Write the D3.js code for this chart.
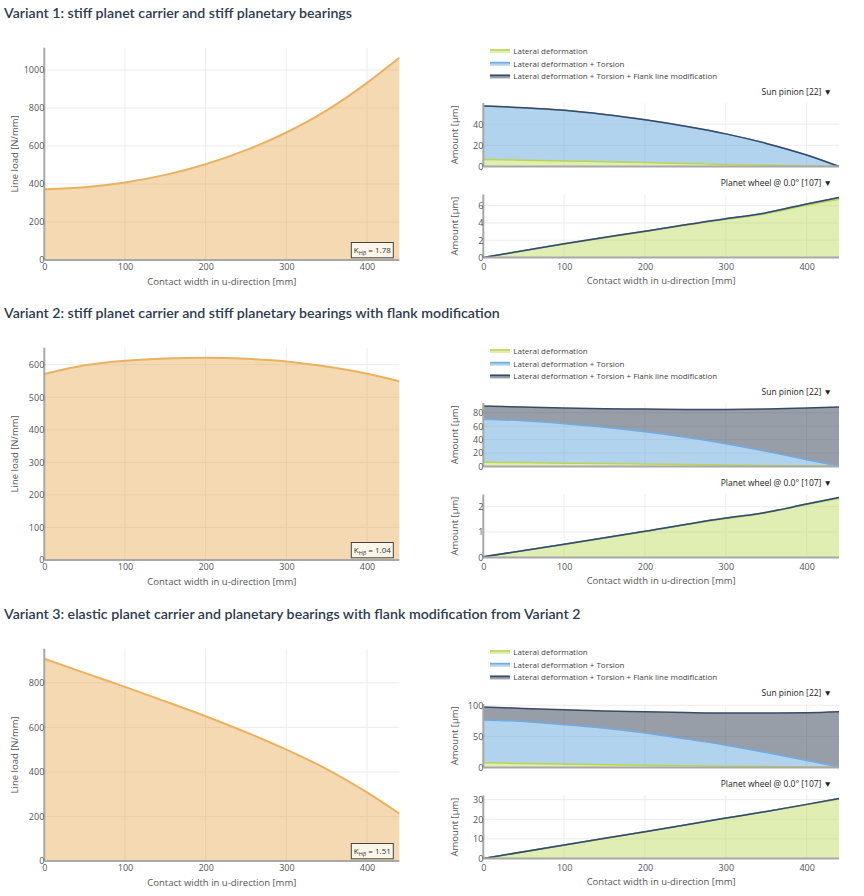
<!DOCTYPE html>
<html>
<head>
<meta charset="utf-8">
<script src="https://cdn.jsdelivr.net/npm/d3@7"></script>
<style>
body { margin: 0; background: #fff; }
svg { display: block; }
</style>
</head>
<body>
<div id="main"></div>
<script>
const ctx = {
    w: 864,
    h: 896,
};

const variantTitles = [
    "Variant 1: stiff planet carrier and stiff planetary bearings",
    "Variant 2: stiff planet carrier and stiff planetary bearings with flank modification",
    "Variant 3: elastic planet carrier and planetary bearings with flank modification from Variant 2"
];
const sectionTop = [0, 300, 601];

// contact width positions [mm]
const uPos = [0, 50, 100, 150, 200, 250, 300, 350, 400, 440];
const planetPos = [0, 100, 200, 300, 340, 400, 440];
const xTicks = [0, 100, 200, 300, 400];

// line load [N/mm]
const loadV1 = [372, 383, 408, 448, 504, 578, 671, 787, 932, 1064];
const loadV2 = [571, 598, 612, 619, 621, 618, 610, 594, 572, 549];
const loadV3 = [908, 845, 782, 717, 650, 578, 500, 413, 308, 213];
const loadTicks = [
    [0, 200, 400, 600, 800, 1000],
    [0, 100, 200, 300, 400, 500, 600],
    [0, 200, 400, 600, 800]
];
const kFactor = ["1.78", "1.04", "1.51"];

// sun pinion deformation [µm]
const sunLateralV1 = [6.7, 6.0, 5.3, 4.5, 3.7, 2.9, 2.0, 1.3, 0.6, 0];
const sunTorsionV1 = [57.1, 55.5, 53, 49, 44.1, 38, 30.8, 21.8, 10.8, 0];
const sunFlankV1   = [57.1, 55.5, 53, 49, 44.1, 38, 30.8, 21.8, 10.8, 0];
const sunLateralV2 = [6.5, 5.8, 5.0, 4.4, 3.7, 3.0, 2.3, 1.6, 1.0, 0.5];
const sunTorsionV2 = [70.4, 68, 63.7, 58.5, 51.6, 43.5, 34, 22.5, 10.2, 0.5];
const sunFlankV2   = [90, 88.5, 87, 86, 85.5, 85, 85, 85.5, 87, 88.5];
const sunLateralV3 = [7.6, 6.5, 5.4, 4.6, 3.8, 3.0, 2.2, 1.6, 1.0, 0.5];
const sunTorsionV3 = [76.5, 74, 68.9, 63, 55.4, 46, 35.8, 24, 11.4, 0.5];
const sunFlankV3   = [97.2, 95, 92.8, 91, 89.6, 88.3, 87.4, 87.4, 88, 89.6];
const sunTicks = [[0, 20, 40], [0, 20, 40, 60, 80], [0, 50, 100]];

// planet wheel deformation [µm]
const planetLateralV1 = [0, 1.55, 3.0, 4.42, 4.92, 6.05, 6.75];
const planetFlankV1   = [0, 1.6, 3.05, 4.5, 5.0, 6.2, 6.95];
const planetLateralV2 = [0.03, 0.51, 1.02, 1.53, 1.70, 2.08, 2.33];
const planetFlankV2   = [0.03, 0.52, 1.03, 1.55, 1.72, 2.1, 2.36];
const planetLateralV3 = [0, 6.8, 13.6, 20.5, 23.2, 27.4, 30.3];
const planetFlankV3   = [0, 6.9, 13.7, 20.6, 23.3, 27.6, 30.6];
const planetTicks = [[0, 2, 4, 6], [0, 1, 2], [0, 10, 20, 30]];

const legendLabels = [
    "Lateral deformation",
    "Lateral deformation + Torsion",
    "Lateral deformation + Torsion + Flank line modification"
];

const variants = [
    {load: loadV1, sun: [sunLateralV1, sunTorsionV1, sunFlankV1], planet: [planetLateralV1, planetFlankV1, planetFlankV1]},
    {load: loadV2, sun: [sunLateralV2, sunTorsionV2, sunFlankV2], planet: [planetLateralV2, planetFlankV2, planetFlankV2]},
    {load: loadV3, sun: [sunLateralV3, sunTorsionV3, sunFlankV3], planet: [planetLateralV3, planetFlankV3, planetFlankV3]}
];

const seriesFill = ["rgba(181,211,74,0.42)", "rgba(100,168,220,0.5)", "rgba(48,62,82,0.5)"];
const seriesLine = ["rgb(184,214,80)", "rgb(112,172,228)", "rgb(58,74,98)"];

const font = "'Open Sans', sans-serif";
const gridColor = "#ececec";
const axisColor = "#a8a8a8";

function styleTicks(sel) {
    sel.selectAll("text")
       .style("font-family", font)
       .style("font-size", "9px")
       .style("fill", "#555");
    sel.selectAll(".tick line").remove();
}

function createLoadChart(g, loads, ticks, k) {
    const left = 44.3, right = 399.3, top = 47.7, bottom = 260;
    const xScale = d3.scaleLinear().domain([0, 440]).range([left, right]);
    const yScale = d3.scaleLinear().domain([0, d3.max(loads) * 1.05]).range([bottom, top]);

    // grid
    g.append("g").selectAll("line")
     .data(xTicks.slice(1)).enter().append("line")
     .attr("x1", d => xScale(d)).attr("x2", d => xScale(d))
     .attr("y1", top).attr("y2", bottom)
     .attr("stroke", gridColor);
    g.append("g").selectAll("line")
     .data(ticks.slice(1)).enter().append("line")
     .attr("x1", left).attr("x2", right)
     .attr("y1", d => yScale(d)).attr("y2", d => yScale(d))
     .attr("stroke", gridColor);

    const pts = uPos.map((u, i) => [u, loads[i]]);
    g.append("path")
     .datum(pts)
     .attr("fill", "rgba(228,160,65,0.4)")
     .attr("d", d3.area().x(d => xScale(d[0])).y0(yScale(0)).y1(d => yScale(d[1])).curve(d3.curveMonotoneX));
    g.append("path")
     .datum(pts)
     .attr("fill", "none")
     .attr("stroke", "rgb(234,178,96)")
     .attr("stroke-width", 2)
     .attr("d", d3.line().x(d => xScale(d[0])).y(d => yScale(d[1])).curve(d3.curveMonotoneX));

    // axes
    g.append("line").attr("x1", left).attr("x2", left).attr("y1", top).attr("y2", bottom)
     .attr("stroke", axisColor).attr("stroke-width", 2);
    g.append("line").attr("x1", left).attr("x2", right).attr("y1", bottom).attr("y2", bottom)
     .attr("stroke", axisColor).attr("stroke-width", 2);

    const ax = g.append("g").attr("transform", `translate(0,${bottom})`)
        .call(d3.axisBottom(xScale).tickValues(xTicks).tickFormat(d3.format("d")).tickSize(0).tickPadding(4));
    ax.select(".domain").remove();
    styleTicks(ax);
    const ay = g.append("g").attr("transform", `translate(${left + 1},0)`)
        .call(d3.axisLeft(yScale).tickValues(ticks).tickFormat(d3.format("d")).tickSize(0).tickPadding(1));
    ay.select(".domain").remove();
    styleTicks(ay);

    g.append("text")
     .attr("transform", `translate(18,${(top + bottom) / 2}) rotate(-90)`)
     .attr("text-anchor", "middle")
     .style("font-family", font).style("font-size", "9.5px").style("fill", "#555")
     .text("Line load [N/mm]");
    g.append("text")
     .attr("x", (left + right) / 2).attr("y", 284.5)
     .attr("text-anchor", "middle")
     .style("font-family", font).style("font-size", "9.5px").style("fill", "#555")
     .text("Contact width in u-direction [mm]");

    // K factor box
    const kb = g.append("g").attr("transform", `translate(${right - 48},${bottom - 17.5})`);
    kb.append("rect").attr("width", 42).attr("height", 15.3)
      .attr("fill", "#fcf6ea").attr("stroke", "#444").attr("stroke-width", 1);
    const kt = kb.append("text").attr("x", 21).attr("y", 10.5).attr("text-anchor", "middle")
      .style("font-family", font).style("font-size", "8px").style("fill", "#333");
    kt.append("tspan").text("K");
    kt.append("tspan").attr("dy", 2).style("font-size", "5.5px").text("Hβ");
    kt.append("tspan").attr("dy", -2).text(" = " + k);
}

function createDeformChart(g, pos, series, ticks, top, bottom, label, showX) {
    const left = 483.3, right = 839;
    const xScale = d3.scaleLinear().domain([0, 440]).range([left, right]);
    const yScale = d3.scaleLinear().domain([0, d3.max(series.flat()) * 1.05]).range([bottom, top]);

    g.append("g").selectAll("line")
     .data(xTicks.slice(1)).enter().append("line")
     .attr("x1", d => xScale(d)).attr("x2", d => xScale(d))
     .attr("y1", top).attr("y2", bottom)
     .attr("stroke", gridColor);
    g.append("g").selectAll("line")
     .data(ticks.slice(1)).enter().append("line")
     .attr("x1", left).attr("x2", right)
     .attr("y1", d => yScale(d)).attr("y2", d => yScale(d))
     .attr("stroke", gridColor);

    // stacked fills: each series fills to the previous one
    series.forEach((vals, s) => {
        const prev = s === 0 ? null : series[s - 1];
        const pts = pos.map((u, i) => ({u: u, y0: prev ? prev[i] : 0, y1: vals[i]}));
        g.append("path")
         .datum(pts)
         .attr("fill", seriesFill[s])
         .attr("d", d3.area().x(d => xScale(d.u)).y0(d => yScale(d.y0)).y1(d => yScale(d.y1)).curve(d3.curveMonotoneX));
    });
    series.forEach((vals, s) => {
        g.append("path")
         .datum(pos.map((u, i) => [u, vals[i]]))
         .attr("fill", "none")
         .attr("stroke", seriesLine[s])
         .attr("stroke-width", 1.5)
         .attr("d", d3.line().x(d => xScale(d[0])).y(d => yScale(d[1])).curve(d3.curveMonotoneX));
    });

    g.append("line").attr("x1", left).attr("x2", left).attr("y1", top).attr("y2", bottom)
     .attr("stroke", axisColor).attr("stroke-width", 2);
    g.append("line").attr("x1", left).attr("x2", right).attr("y1", bottom).attr("y2", bottom)
     .attr("stroke", axisColor).attr("stroke-width", 2);

    const ay = g.append("g").attr("transform", `translate(${left + 1},0)`)
        .call(d3.axisLeft(yScale).tickValues(ticks).tickFormat(d3.format("d")).tickSize(0).tickPadding(1));
    ay.select(".domain").remove();
    styleTicks(ay);

    if (showX) {
        const ax = g.append("g").attr("transform", `translate(0,${bottom})`)
            .call(d3.axisBottom(xScale).tickValues(xTicks).tickFormat(d3.format("d")).tickSize(0).tickPadding(6));
        ax.select(".domain").remove();
        styleTicks(ax);
        g.append("text")
         .attr("x", (left + right) / 2).attr("y", 284)
         .attr("text-anchor", "middle")
         .style("font-family", font).style("font-size", "9.5px").style("fill", "#555")
         .text("Contact width in u-direction [mm]");
    }

    g.append("text")
     .attr("transform", `translate(458,${(top + bottom) / 2}) rotate(-90)`)
     .attr("text-anchor", "middle")
     .style("font-family", font).style("font-size", "9.5px").style("fill", "#555")
     .text("Amount [µm]");

    g.append("text")
     .attr("x", 832).attr("y", top - 8.5)
     .attr("text-anchor", "end")
     .style("font-family", font).style("font-size", "8.5px").style("fill", "#222")
     .text(label + " ▼");
}

function createLegend(g) {
    legendLabels.forEach((d, i) => {
        const row = g.append("g").attr("transform", `translate(490,${51 + i * 12.7})`);
        row.append("rect").attr("x", 0).attr("y", -2).attr("width", 20).attr("height", 4)
           .attr("fill", seriesFill[i]);
        row.append("line").attr("x1", 0).attr("x2", 20).attr("y1", -1).attr("y2", -1)
           .attr("stroke", seriesLine[i]).attr("stroke-width", 1.5);
        row.append("text").attr("x", 23.3).attr("y", 3)
           .style("font-family", font).style("font-size", "8px").style("fill", "#444")
           .text(d);
    });
}

function createViz() {
    const svgEl = d3.select("#main").append("svg")
        .attr("width", ctx.w)
        .attr("height", ctx.h);

    variants.forEach((v, i) => {
        const g = svgEl.append("g").attr("transform", `translate(0,${sectionTop[i]})`);
        g.append("text")
         .attr("x", 4).attr("y", 17.5)
         .style("font-family", "Lato, 'Noto Sans', sans-serif")
         .style("font-size", "14.2px")
         .style("font-weight", 600)
         .style("fill", "#2e3a4e")
         .text(variantTitles[i]);
        createLoadChart(g, v.load, loadTicks[i], kFactor[i]);
        createLegend(g);
        createDeformChart(g, uPos, v.sun, sunTicks[i], 103, 166.5, "Sun pinion [22]", false);
        createDeformChart(g, planetPos, v.planet, planetTicks[i], 194.5, 257.5, "Planet wheel @ 0.0° [107]", true);
    });
}

createViz();
</script>
</body>
</html>
